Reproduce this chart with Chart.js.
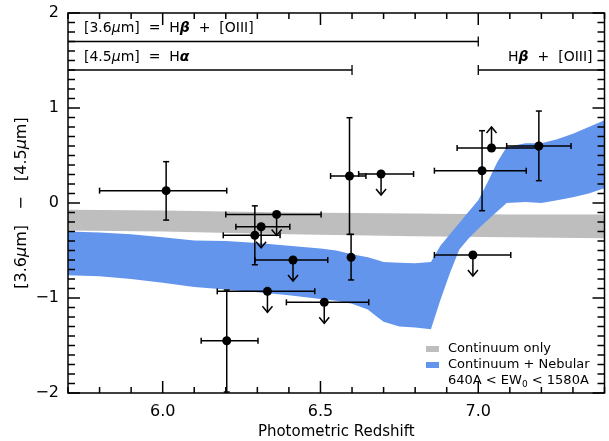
<!DOCTYPE html>
<html>
<head>
<meta charset="utf-8">
<script src="https://cdn.jsdelivr.net/npm/chart.js@4.4.0/dist/chart.umd.min.js"></script>
<style>
html, body { margin: 0; padding: 0; background: #fff; }
</style>
</head>
<body>
<canvas id="grafica" width="609" height="441"></canvas>
<script>
// ------------------------------ DATOS ------------------------------
const ticksX = [6.0, 6.5, 7.0];
const ticksY = [-2, -1, 0, 1, 2];

// banda gris: solo continuo
const grisX = [5.7, 6.0, 6.4, 6.8, 7.1, 7.4];
const grisArriba = [-0.07, -0.08, -0.10, -0.11, -0.12, -0.12];
const grisAbajo = [-0.29, -0.30, -0.33, -0.35, -0.36, -0.37];

// banda azul: continuo + nebular
const azulX = [5.7, 5.8, 5.9, 6.0, 6.1, 6.2, 6.3, 6.4, 6.5, 6.55, 6.6, 6.65, 6.68, 6.7, 6.75, 6.8, 6.85,
  6.88, 6.91, 6.94, 6.97, 7.0, 7.03, 7.06, 7.09, 7.15, 7.2, 7.25, 7.3, 7.35, 7.4];
const azulArriba = [-0.30, -0.31, -0.33, -0.36, -0.395, -0.40, -0.42, -0.45, -0.48, -0.50, -0.54, -0.57, -0.60, -0.62, -0.63, -0.635, -0.62,
  -0.45, -0.33, -0.21, -0.09, 0.03, 0.22, 0.43, 0.59, 0.63, 0.63, 0.67, 0.73, 0.80, 0.87];
const azulAbajo = [-0.76, -0.77, -0.80, -0.84, -0.885, -0.91, -0.94, -0.97, -1.01, -1.03, -1.06, -1.12, -1.20, -1.25, -1.30, -1.31, -1.33,
  -1.02, -0.74, -0.49, -0.37, -0.27, -0.18, -0.09, 0.0, 0.01, 0.0, 0.03, 0.06, 0.10, 0.155];

// galaxias (null = sin barra de error)
const galX = [6.011, 6.361, 6.312, 6.292, 6.413, 6.332, 6.512, 6.203, 6.592, 6.692, 6.597, 7.012, 7.042, 7.192, 6.983];
const galY = [0.13, -0.12, -0.25, -0.34, -0.60, -0.93, -1.045, -1.45, 0.284, 0.305, -0.572, 0.34, 0.579, 0.60, -0.547];
const galXmin = [5.80, 6.20, 6.232, 6.192, 6.292, 6.173, 6.392, 6.122, 6.532, 6.621, null, 6.861, 6.933, 7.09, 6.861];
const galXmax = [6.203, 6.502, 6.403, 6.372, 6.523, 6.482, 6.653, 6.302, 6.644, 6.795, null, 7.152, 7.19, 7.294, 7.103];
const galYmin = [-0.18, null, null, -0.65, null, null, null, -1.99, -0.33, null, -0.81, -0.081, null, 0.235, null];
const galYmax = [0.435, null, null, -0.03, null, null, null, -0.916, 0.898, null, -0.33, 0.761, null, 0.968, null];
// -1 = limite superior (flecha abajo), 1 = limite inferior (flecha arriba)
const galLimite = [0, -1, -1, 0, -1, -1, -1, 0, 0, -1, 0, 0, 1, 0, -1];

// rangos de las lineas de arriba
const rangoY = [1.7, 1.4, 1.4];
const rangoDesde = [5.7, 5.7, 7.0];
const rangoHasta = [7.0, 6.6, 7.4];

// ------------------------------ ESTILO ------------------------------
const FUENTE = '"DejaVu Sans", sans-serif';
const GRIS = 'rgb(190,190,190)';
const AZUL = 'rgb(100,149,237)';

function unir(xs, ys) {
  return xs.map((v, i) => ({ x: v, y: ys[i] }));
}

function fuente(estilo, tam) {
  return (estilo || '') + ' ' + tam + 'px ' + FUENTE;
}

// partes: [texto, estilo, tamaño, desplazamiento vertical]
function textoRico(ctx, partes, x, y, alinear, tam) {
  let ancho = 0;
  partes.forEach(p => {
    ctx.font = fuente(p[1], p[2] || tam);
    ancho += ctx.measureText(p[0]).width;
  });
  let cx = alinear === 'right' ? x - ancho : (alinear === 'center' ? x - ancho / 2 : x);
  ctx.textAlign = 'left';
  ctx.textBaseline = 'middle';
  partes.forEach(p => {
    ctx.font = fuente(p[1], p[2] || tam);
    ctx.fillText(p[0], cx, y + (p[3] || 0));
    cx += ctx.measureText(p[0]).width;
  });
}

function linea(ctx, x0, y0, x1, y1) {
  ctx.beginPath();
  ctx.moveTo(x0, y0);
  ctx.lineTo(x1, y1);
  ctx.stroke();
}

//---------------------------------------- PLUGIN EXTRAS ----------------------------------------
const extras = {
  id: 'extras',
  afterDatasetsDraw(chart) {
    const { ctx, scales: { x, y } } = chart;
    ctx.save();
    ctx.strokeStyle = '#000';
    ctx.lineWidth = 1.5;
    const cap = 3;
    for (let i = 0; i < galX.length; i++) {
      const px = x.getPixelForValue(galX[i]);
      const py = y.getPixelForValue(galY[i]);
      if (galXmin[i] !== null) {
        const a = x.getPixelForValue(galXmin[i]);
        const b = x.getPixelForValue(galXmax[i]);
        linea(ctx, a, py, b, py);
        linea(ctx, a, py - cap, a, py + cap);
        linea(ctx, b, py - cap, b, py + cap);
      }
      if (galYmin[i] !== null) {
        const a = y.getPixelForValue(galYmin[i]);
        const b = y.getPixelForValue(galYmax[i]);
        linea(ctx, px, a, px, b);
        linea(ctx, px - cap, a, px + cap, a);
        linea(ctx, px - cap, b, px + cap, b);
      }
      if (galLimite[i] !== 0) {
        const d = -galLimite[i];
        const fin = py + d * 21;
        linea(ctx, px, py, px, fin);
        ctx.beginPath();
        ctx.moveTo(px - 5, fin - d * 6);
        ctx.lineTo(px, fin);
        ctx.lineTo(px + 5, fin - d * 6);
        ctx.stroke();
      }
    }
    ctx.restore();
  },
  afterDraw(chart) {
    const { ctx, chartArea: a, scales: { x, y } } = chart;
    ctx.save();
    ctx.strokeStyle = '#000';
    ctx.fillStyle = '#000';
    ctx.lineWidth = 1.5;
    // marco y ticks hacia dentro
    ctx.strokeRect(a.left, a.top, a.right - a.left, a.bottom - a.top);
    for (let k = 57; k <= 74; k++) {
      const px = x.getPixelForValue(k / 10);
      const largo = k % 5 === 0 ? 12 : 6;
      linea(ctx, px, a.bottom, px, a.bottom - largo);
      linea(ctx, px, a.top, px, a.top + largo);
    }
    for (let k = -20; k <= 20; k++) {
      const py = y.getPixelForValue(k / 10);
      const largo = k % 10 === 0 ? 12 : 7;
      linea(ctx, a.left, py, a.left + largo, py);
      linea(ctx, a.right, py, a.right - largo, py);
    }
    // rangos de lineas de emision
    ctx.lineWidth = 1.3;
    for (let i = 0; i < rangoY.length; i++) {
      const py = y.getPixelForValue(rangoY[i]);
      const a0 = x.getPixelForValue(rangoDesde[i]);
      const a1 = x.getPixelForValue(rangoHasta[i]);
      linea(ctx, a0, py, a1, py);
      if (rangoDesde[i] > x.min) linea(ctx, a0, py - 5, a0, py + 5);
      if (rangoHasta[i] < x.max) linea(ctx, a1, py - 5, a1, py + 5);
    }
    const y1 = y.getPixelForValue(rangoY[0]) - 13;
    const y2 = y.getPixelForValue(rangoY[1]) - 13;
    textoRico(ctx, [['[3.6'], ['\u03bc', 'italic'], ['m]  =  H'], ['\u03b2', 'italic bold'], ['  +  [OIII]']], a.left + 16, y1, 'left', 14);
    textoRico(ctx, [['[4.5'], ['\u03bc', 'italic'], ['m]  =  H'], ['\u03b1', 'italic bold']], a.left + 16, y2, 'left', 14);
    textoRico(ctx, [['H'], ['\u03b2', 'italic bold'], ['  +  [OIII]']], a.right - 12, y2, 'right', 14);
    // titulo del eje y, girado
    ctx.save();
    ctx.translate(22, (a.top + a.bottom) / 2);
    ctx.rotate(-Math.PI / 2);
    textoRico(ctx, [['[3.6'], ['\u03bc', 'italic'], ['m]   \u2212   [4.5'], ['\u03bc', 'italic'], ['m]']], 0, 0, 'center', 16);
    ctx.restore();
    // leyenda
    const lx = 426, ly = 349;
    ctx.fillStyle = GRIS;
    ctx.fillRect(lx, ly - 3, 13, 6);
    ctx.fillStyle = AZUL;
    ctx.fillRect(lx, ly + 13, 13, 6);
    ctx.fillStyle = '#000';
    textoRico(ctx, [['Continuum only']], lx + 22, ly, 'left', 13);
    textoRico(ctx, [['Continuum + Nebular']], lx + 22, ly + 16, 'left', 13);
    textoRico(ctx, [['640A < EW'], ['0', '', 9, 4], [' < 1580A']], lx + 22, ly + 32, 'left', 13);
    ctx.restore();
  }
};

const datos = {
  datasets: [
    {
      label: 'galaxias',
      data: unir(galX, galY),
      pointRadius: 4.5,
      pointBackgroundColor: '#000',
      pointBorderWidth: 0
    },
    {
      type: 'line', label: 'neb arriba', data: unir(azulX, azulArriba),
      borderWidth: 0, pointRadius: 0, fill: false, backgroundColor: AZUL, tension: 0
    },
    {
      type: 'line', label: 'Continuum + Nebular', data: unir(azulX, azulAbajo),
      borderWidth: 0, pointRadius: 0, fill: '-1', backgroundColor: AZUL, tension: 0
    },
    {
      type: 'line', label: 'cont arriba', data: unir(grisX, grisArriba),
      borderWidth: 0, pointRadius: 0, fill: false, backgroundColor: GRIS, tension: 0
    },
    {
      type: 'line', label: 'Continuum only', data: unir(grisX, grisAbajo),
      borderWidth: 0, pointRadius: 0, fill: '-1', backgroundColor: GRIS, tension: 0
    }
  ]
};

const config = {
  type: 'scatter',
  data: datos,
  options: {
    responsive: false,
    animation: false,
    events: [],
    layout: { padding: { left: 0, right: 2, top: 13, bottom: 0 } },
    plugins: { legend: { display: false }, tooltip: { enabled: false } },
    scales: {
      x: {
        type: 'linear', min: 5.7, max: 7.4,
        afterBuildTicks: s => { s.ticks = ticksX.map(v => ({ value: v })); },
        afterFit: s => { s.height = 48; },
        grid: { display: false, drawTicks: false },
        border: { display: false },
        ticks: {
          color: '#000', padding: 9, maxRotation: 0, autoSkip: false,
          font: { family: FUENTE, size: 16 },
          callback: v => v.toFixed(1)
        },
        title: {
          display: true, text: 'Photometric Redshift', color: '#000',
          font: { family: FUENTE, size: 15, lineHeight: 1 }, padding: { top: 0, bottom: 1 }
        }
      },
      y: {
        type: 'linear', min: -2, max: 2,
        afterBuildTicks: s => { s.ticks = ticksY.map(v => ({ value: v })); },
        afterFit: s => { s.width = 68; s.paddingTop = 0; s.paddingBottom = 0; },
        grid: { display: false, drawTicks: false },
        border: { display: false },
        ticks: {
          color: '#000', padding: 9,
          font: { family: FUENTE, size: 16, lineHeight: 0.8 },
          callback: v => v < 0 ? '\u2212' + Math.abs(v) : String(v)
        }
      }
    }
  },
  plugins: [extras]
};

const grafica = new Chart(document.getElementById('grafica'), config);
</script>
</body>
</html>
